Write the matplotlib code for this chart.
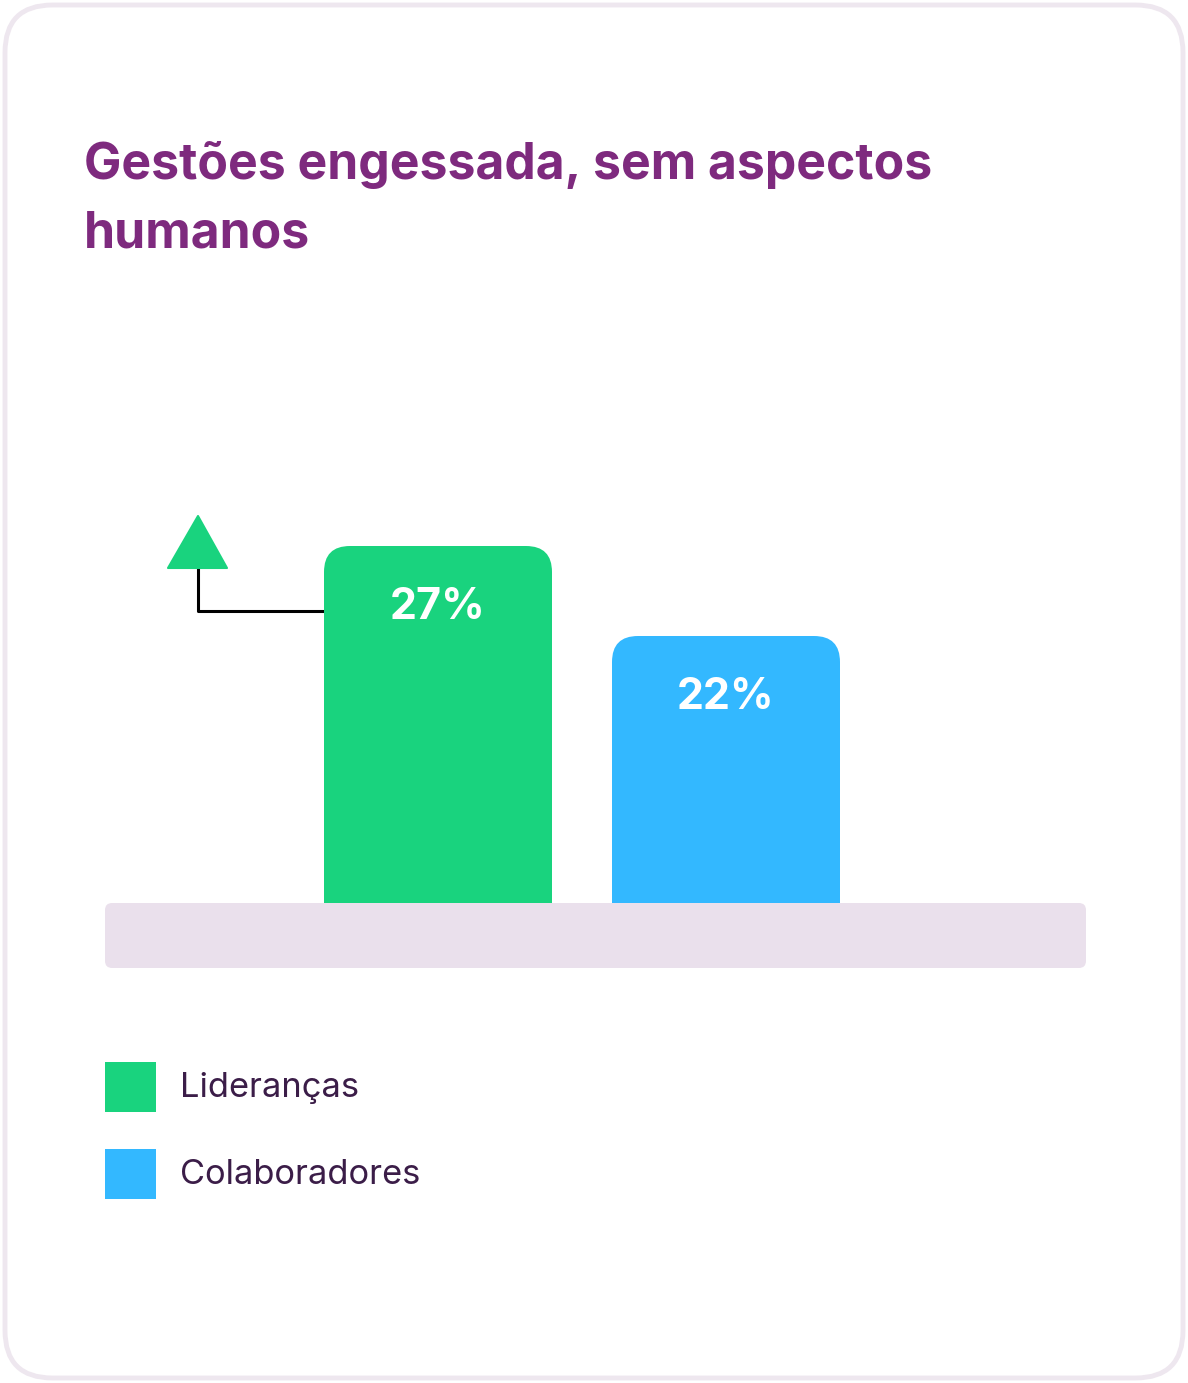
import numpy as np
import matplotlib.pyplot as plt
from matplotlib.patches import FancyBboxPatch, Polygon
from matplotlib.lines import Line2D

# data
categories = ['Lideranças', 'Colaboradores']
values = [27, 22]
labels = ['27%', '22%']
colors = ['#19D37E', '#33B8FF']

title = 'Gestões engessada, sem aspectos\nhumanos'
title_color = '#7E2A7E'
text_color = '#3B1D48'
base_color = '#EAE0EC'

W, H = 1188, 1383
fig = plt.figure(figsize=(W / 100, H / 100), dpi=100)
fig.patch.set_facecolor('white')


def fx(px):
    return px / W


def fy(py):
    return 1 - py / H


# card outline (kept behind the axes)
card = FancyBboxPatch((fx(5), fy(1378)), fx(1178), 1373 / H,
                      boxstyle='round,pad=0,rounding_size=0.04',
                      mutation_aspect=W / H,
                      transform=fig.transFigure, facecolor='white',
                      edgecolor='#EEE7EF', linewidth=3.5, zorder=-5)
fig.patches.append(card)

# baseline of the last title line sits at 247 px
fig.text(fx(84), fy(247), title, color=title_color, fontsize=35.9,
         fontweight='bold', family='Inter', va='baseline', ha='left',
         linespacing=1.58)

# bar axes: 18 px per percentage point, bars 288 px apart
px_per_unit = 18.0
px_per_x = 288.0
base_px = 903
top_px = 480
v0 = values[0] - (base_px - 546) / px_per_unit
ax = fig.add_axes([fx(105), fy(base_px), fx(1086) - fx(105),
                   (base_px - top_px) / H])
ax.set_zorder(2)
ax.set_xlim((105 - 438) / px_per_x, (1086 - 438) / px_per_x)
ax.set_ylim(v0, v0 + (base_px - top_px) / px_per_unit)
ax.axis('off')

bw = 228 / px_per_x
rad = 26 / px_per_x
for i, (v, c, lab) in enumerate(zip(values, colors, labels)):
    bar = FancyBboxPatch((i - bw / 2, v0 - 3), bw, v - v0 + 3,
                         boxstyle=f'round,pad=0,rounding_size={rad}',
                         mutation_aspect=px_per_x / px_per_unit,
                         facecolor=c, edgecolor='none')
    ax.add_patch(bar)
    ax.text(i, v - 62 / px_per_unit, lab, color='white', fontsize=31,
            fontweight='bold', family='Inter', ha='center', va='center')

# baseline strip
strip = FancyBboxPatch((fx(105), fy(968)), fx(981), 65 / H,
                       boxstyle='round,pad=0,rounding_size=0.006',
                       mutation_aspect=W / H,
                       transform=fig.transFigure, facecolor=base_color,
                       edgecolor='none', zorder=3)
fig.patches.append(strip)

# arrow marker pointing at the first bar
fig.lines.append(Line2D([fx(198), fx(198), fx(324)],
                        [fy(566), fy(611), fy(611)],
                        transform=fig.transFigure, color='black', lw=2.2,
                        zorder=1))
tri = Polygon([[fx(168), fy(568)], [fx(227), fy(568)], [fx(198), fy(516)]],
              closed=True, transform=fig.transFigure, facecolor=colors[0],
              edgecolor=colors[0], linewidth=1.5, joinstyle='round')
fig.patches.append(tri)

# legend
for i, (cat, c) in enumerate(zip(categories, colors)):
    y = 1062 + i * 87
    fig.patches.append(plt.Rectangle((fx(105), fy(y + 50)), fx(51), 50 / H,
                                     transform=fig.transFigure,
                                     facecolor=c, edgecolor='none'))
    fig.text(fx(180), fy(y + 26), cat, color=text_color, fontsize=24.8,
             family='Inter', va='center', ha='left')

fig.savefig('out.png', dpi=100, facecolor='white')
